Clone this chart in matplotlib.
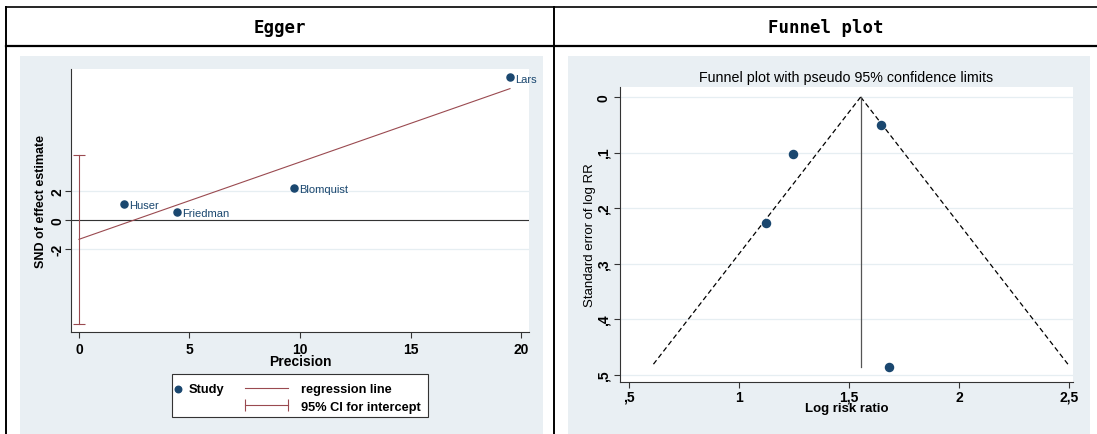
import numpy as np
import matplotlib
matplotlib.use("Agg")
import matplotlib.pyplot as plt
from matplotlib.lines import Line2D
from matplotlib.patches import Rectangle

plt.rcParams["font.family"] = ["Liberation Sans", "DejaVu Sans"]

# Egger panel data
studies = ["Huser", "Friedman", "Blomquist", "Lars"]
precision = [2.05, 4.43, 9.73, 19.5]
snd = [1.1, 0.55, 2.2, 9.85]
ci_intercept = [-7.2, 4.5]
egger_xticks = [0, 5, 10, 15, 20]
egger_yticks = [-2, 0, 2]

# Funnel panel data
log_rr = [1.645, 1.245, 1.123, 1.68]
se_log_rr = [0.05, 0.103, 0.227, 0.485]
funnel_xticks = [0.5, 1, 1.5, 2, 2.5]
funnel_xlabels = [",5", "1", "1,5", "2", "2,5"]
funnel_yticks = [0, 0.1, 0.2, 0.3, 0.4, 0.5]
funnel_ylabels = ["0", ",1", ",2", ",3", ",4", ",5"]

headers = ["Egger", "Funnel plot"]

W, H = 1097, 435
navy = "#1a476f"
maroon = "#9a4a50"
bg = "#e9eff3"
grid_c = "#e6eef2"
axis_c = "#333333"


def frac(x0, y0, x1, y1):
    # pixel box (top-left origin) -> figure fraction rect
    return [x0 / W, 1 - y1 / H, (x1 - x0) / W, (y1 - y0) / H]


fig = plt.figure(figsize=(W / 100, H / 100), dpi=100, facecolor="white")

# table frame
for y in (8, 47):
    fig.add_artist(Line2D([6 / W, 1097 / W], [1 - y / H] * 2, transform=fig.transFigure,
                          color="black", lw=1.6 if y == 47 else 1.2))
for x in (6, 554):
    fig.add_artist(Line2D([x / W] * 2, [0, 1 - 8 / H], transform=fig.transFigure,
                          color="black", lw=1.4))
fig.text(280 / W, 1 - 28 / H, headers[0], ha="center", va="center",
         family="DejaVu Sans Mono", weight="bold", fontsize=12.5)
fig.text(826 / W, 1 - 28 / H, headers[1], ha="center", va="center",
         family="DejaVu Sans Mono", weight="bold", fontsize=12.5)

# stata graph backgrounds
fig.add_artist(Rectangle((20 / W, 0), (543 - 20) / W, 1 - 57 / H, transform=fig.transFigure,
                         fc=bg, ec="none", zorder=-1))
fig.add_artist(Rectangle((568 / W, 0), (1090 - 568) / W, 1 - 57 / H, transform=fig.transFigure,
                         fc=bg, ec="none", zorder=-1))


def style_axes(ax):
    for s in ("top", "right"):
        ax.spines[s].set_visible(False)
    for s in ("left", "bottom"):
        ax.spines[s].set_color(axis_c)
        ax.spines[s].set_linewidth(0.8)
    ax.tick_params(direction="out", length=4, width=0.8, color=axis_c, labelsize=10, pad=3)
    ax.yaxis.grid(True, color=grid_c, lw=0.9)
    ax.set_axisbelow(True)


# ---- Egger plot ----
ax1 = fig.add_axes(frac(71, 70, 529, 333))
style_axes(ax1)
slope, intercept = np.polyfit(precision, snd, 1)
xs = np.array([0, max(precision)])
ax1.axhline(0, color=axis_c, lw=0.8, zorder=1)
ax1.plot(xs, intercept + slope * xs, color=maroon, lw=0.8, zorder=2)
ax1.plot([0, 0], ci_intercept, color=maroon, lw=0.8, marker="_", ms=9, mew=0.8, zorder=2)
ax1.scatter(precision, snd, s=26, color=navy, zorder=3)
for name, x, y in zip(studies, precision, snd):
    ax1.annotate(name, (x, y), xytext=(3.5, -1), textcoords="offset points", va="center",
                 fontsize=8, color=navy, annotation_clip=False)
ax1.set_xlim(-0.36, 20.36)
ax1.set_ylim(-7.72, 10.41)
ax1.set_xticks(egger_xticks, [str(t) for t in egger_xticks], fontweight="bold")
ax1.set_yticks(egger_yticks, [str(t) for t in egger_yticks], fontweight="bold",
               rotation=90, va="center")
ax1.tick_params(axis="y", pad=1)
ax1.set_xlabel("Precision", fontsize=10, fontweight="bold", labelpad=-1)
ax1.set_ylabel("SND of effect estimate", fontsize=9, fontweight="bold", labelpad=2)

# legend box
fig.add_artist(Rectangle((172 / W, 1 - 418 / H), (428 - 172) / W, 43 / H,
                         transform=fig.transFigure, fc="white", ec=axis_c, lw=0.8, zorder=1))
h_study = ax1.scatter([], [], s=22, color=navy)
leg1 = fig.legend([h_study], ["Study"], loc="upper left", bbox_to_anchor=(173 / W, 1 - 384 / H),
                  frameon=False, scatterpoints=1, handlelength=0.8, handletextpad=0.4,
                  borderpad=0, borderaxespad=0, prop={"size": 9.3, "weight": "bold"})
h_reg = Line2D([], [], color=maroon, lw=0.8)
h_ci = Line2D([], [], color=maroon, lw=0.8, marker="|", ms=9, mew=0.8)
leg2 = fig.legend([h_reg, h_ci], ["regression line", "95% CI for intercept"], loc="upper left",
                  bbox_to_anchor=(241 / W, 1 - 384 / H), frameon=False, numpoints=2,
                  handlelength=4.0, handletextpad=0.7, labelspacing=0.45,
                  borderpad=0, borderaxespad=0, prop={"size": 9.2, "weight": "bold"})

# ---- Funnel plot ----
ax2 = fig.add_axes(frac(620, 88, 1073, 383))
style_axes(ax2)
pooled = np.average(log_rr, weights=1 / np.array(se_log_rr) ** 2)
se_line = np.array([0, max(se_log_rr)])
ax2.plot(pooled - 1.96 * se_line, se_line, color="black", lw=0.9, dashes=(4, 2.5))
ax2.plot(pooled + 1.96 * se_line, se_line, color="black", lw=0.9, dashes=(4, 2.5))
ax2.plot([pooled, pooled], se_line, color="#555555", lw=0.9)
ax2.scatter(log_rr, se_log_rr, s=34, color=navy, zorder=3)
ax2.set_xlim(0.459, 2.518)
ax2.set_ylim(0.5126, -0.018)
ax2.set_xticks(funnel_xticks, funnel_xlabels, fontweight="bold")
ax2.set_yticks(funnel_yticks, funnel_ylabels, fontweight="bold", rotation=90, va="center")
ax2.tick_params(axis="x", pad=1.5)
ax2.set_title("Funnel plot with pseudo 95% confidence limits", fontsize=10.3, pad=4)
ax2.set_xlabel("Log risk ratio", fontsize=9.5, fontweight="bold", labelpad=-1)
ax2.set_ylabel("Standard error of log RR", fontsize=9.5, labelpad=0)

fig.savefig("out.png", dpi=100, facecolor="white")
